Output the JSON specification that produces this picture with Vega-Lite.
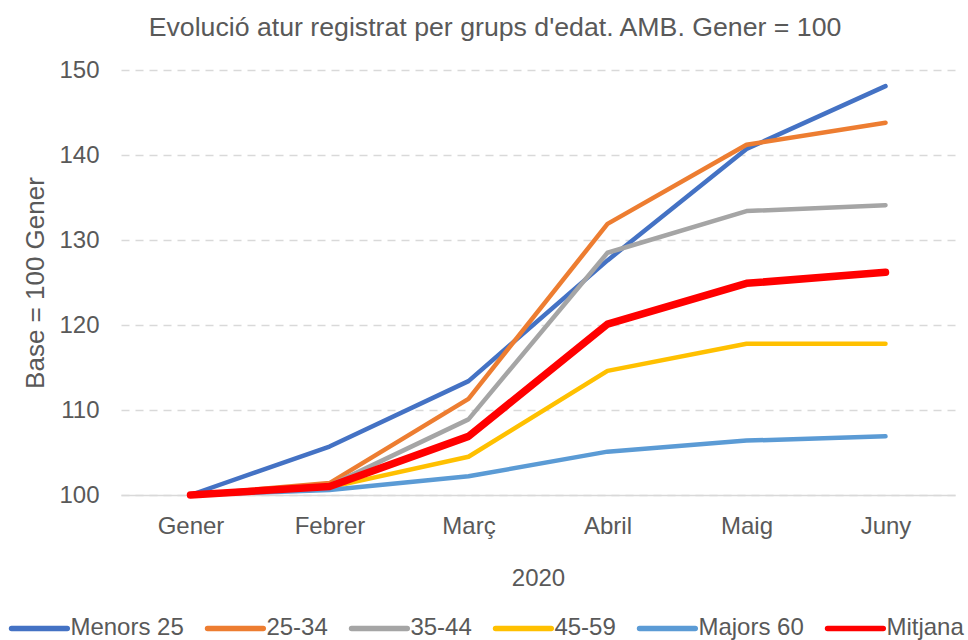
{
  "$schema": "https://vega.github.io/schema/vega-lite/v6.json",
  "autosize": "none",
  "width": 834,
  "height": 425,
  "padding": {"left": 121, "top": 70, "right": 13, "bottom": 145},
  "background": "white",
  "config": {
    "view": {"stroke": null},
    "font": "Liberation Sans",
    "text": {"color": "#595959"}
  },
  "title": {
    "text": "Evolució atur registrat per grups d'edat. AMB. Gener = 100",
    "font": "Liberation Sans",
    "fontSize": 26.7,
    "fontWeight": "normal",
    "color": "#595959",
    "anchor": "middle",
    "dx": -43,
    "offset": 16
  },
  "data": {
    "values": [
      {"mes": "Gener", "serie": "Menors 25", "valor": 100},
      {"mes": "Febrer", "serie": "Menors 25", "valor": 105.7},
      {"mes": "Març", "serie": "Menors 25", "valor": 113.4},
      {"mes": "Abril", "serie": "Menors 25", "valor": 127.6},
      {"mes": "Maig", "serie": "Menors 25", "valor": 140.7},
      {"mes": "Juny", "serie": "Menors 25", "valor": 148.1},
      {"mes": "Gener", "serie": "25-34", "valor": 100},
      {"mes": "Febrer", "serie": "25-34", "valor": 101.4},
      {"mes": "Març", "serie": "25-34", "valor": 111.3},
      {"mes": "Abril", "serie": "25-34", "valor": 131.9},
      {"mes": "Maig", "serie": "25-34", "valor": 141.2},
      {"mes": "Juny", "serie": "25-34", "valor": 143.8},
      {"mes": "Gener", "serie": "35-44", "valor": 100},
      {"mes": "Febrer", "serie": "35-44", "valor": 101.1},
      {"mes": "Març", "serie": "35-44", "valor": 108.9},
      {"mes": "Abril", "serie": "35-44", "valor": 128.5},
      {"mes": "Maig", "serie": "35-44", "valor": 133.4},
      {"mes": "Juny", "serie": "35-44", "valor": 134.1},
      {"mes": "Gener", "serie": "45-59", "valor": 100},
      {"mes": "Febrer", "serie": "45-59", "valor": 100.9},
      {"mes": "Març", "serie": "45-59", "valor": 104.5},
      {"mes": "Abril", "serie": "45-59", "valor": 114.6},
      {"mes": "Maig", "serie": "45-59", "valor": 117.8},
      {"mes": "Juny", "serie": "45-59", "valor": 117.8},
      {"mes": "Gener", "serie": "Majors 60", "valor": 100},
      {"mes": "Febrer", "serie": "Majors 60", "valor": 100.6},
      {"mes": "Març", "serie": "Majors 60", "valor": 102.2},
      {"mes": "Abril", "serie": "Majors 60", "valor": 105.1},
      {"mes": "Maig", "serie": "Majors 60", "valor": 106.4},
      {"mes": "Juny", "serie": "Majors 60", "valor": 106.9},
      {"mes": "Gener", "serie": "Mitjana", "valor": 100},
      {"mes": "Febrer", "serie": "Mitjana", "valor": 101.0},
      {"mes": "Març", "serie": "Mitjana", "valor": 106.9},
      {"mes": "Abril", "serie": "Mitjana", "valor": 120.1},
      {"mes": "Maig", "serie": "Mitjana", "valor": 124.9},
      {"mes": "Juny", "serie": "Mitjana", "valor": 126.2}
    ]
  },
  "encoding": {
    "x": {
      "field": "mes",
      "type": "ordinal",
      "sort": ["Gener", "Febrer", "Març", "Abril", "Maig", "Juny"],
      "scale": {"type": "point", "padding": 0.5},
      "axis": {
        "title": "2020",
        "titleFont": "Liberation Sans",
        "titleFontSize": 24,
        "titleFontWeight": "normal",
        "titleColor": "#595959",
        "titlePadding": 28,
        "labelFont": "Liberation Sans",
        "labelFontSize": 24,
        "labelColor": "#595959",
        "labelAngle": 0,
        "labelPadding": 19,
        "ticks": false,
        "tickSize": 0,
        "domain": true,
        "domainColor": "#d9d9d9",
        "domainWidth": 1.5,
        "grid": false
      }
    },
    "y": {
      "field": "valor",
      "type": "quantitative",
      "scale": {"domain": [100, 150], "zero": false, "nice": false},
      "axis": {
        "title": "Base = 100 Gener",
        "titleFont": "Liberation Sans",
        "titleFontSize": 26,
        "titleFontWeight": "normal",
        "titleColor": "#595959",
        "titlePadding": 10,
        "labelFont": "Liberation Sans",
        "labelFontSize": 24,
        "labelColor": "#595959",
        "labelPadding": 22,
        "values": [100, 110, 120, 130, 140, 150],
        "ticks": false,
        "tickSize": 0,
        "domain": false,
        "grid": true,
        "gridColor": "#d9d9d9",
        "gridWidth": 1.5,
        "gridDash": [8, 6]
      }
    },
    "color": {
      "field": "serie",
      "type": "nominal",
      "sort": ["Menors 25", "25-34", "35-44", "45-59", "Majors 60", "Mitjana"],
      "scale": {
        "domain": ["Menors 25", "25-34", "35-44", "45-59", "Majors 60", "Mitjana"],
        "range": ["#4472C4", "#ED7D31", "#A5A5A5", "#FFC000", "#5B9BD5", "#FF0000"]
      },
      "legend": {
        "title": null,
        "orient": "none",
        "direction": "horizontal",
        "columns": 6,
        "legendX": -112.6,
        "legendY": 527.4,
        "symbolType": "stroke",
        "symbolSize": 3100,
        "symbolStrokeWidth": 5.5,
        "labelFont": "Liberation Sans",
        "labelFontSize": 24,
        "labelColor": "#595959",
        "labelOffset": 0,
        "columnPadding": 12,
        "labelLimit": 300,
        "encode": {
          "symbols": {
            "update": {
              "strokeCap": {"value": "round"}
            }
          }
        }
      }
    }
  },
  "layer": [
    {
      "transform": [{"filter": "datum.serie !== 'Mitjana'"}],
      "mark": {"type": "line", "strokeCap": "round", "strokeJoin": "round", "strokeWidth": 4.5}
    },
    {
      "transform": [{"filter": "datum.serie === 'Mitjana'"}],
      "mark": {"type": "line", "strokeCap": "round", "strokeJoin": "round", "strokeWidth": 7.5}
    }
  ]
}
